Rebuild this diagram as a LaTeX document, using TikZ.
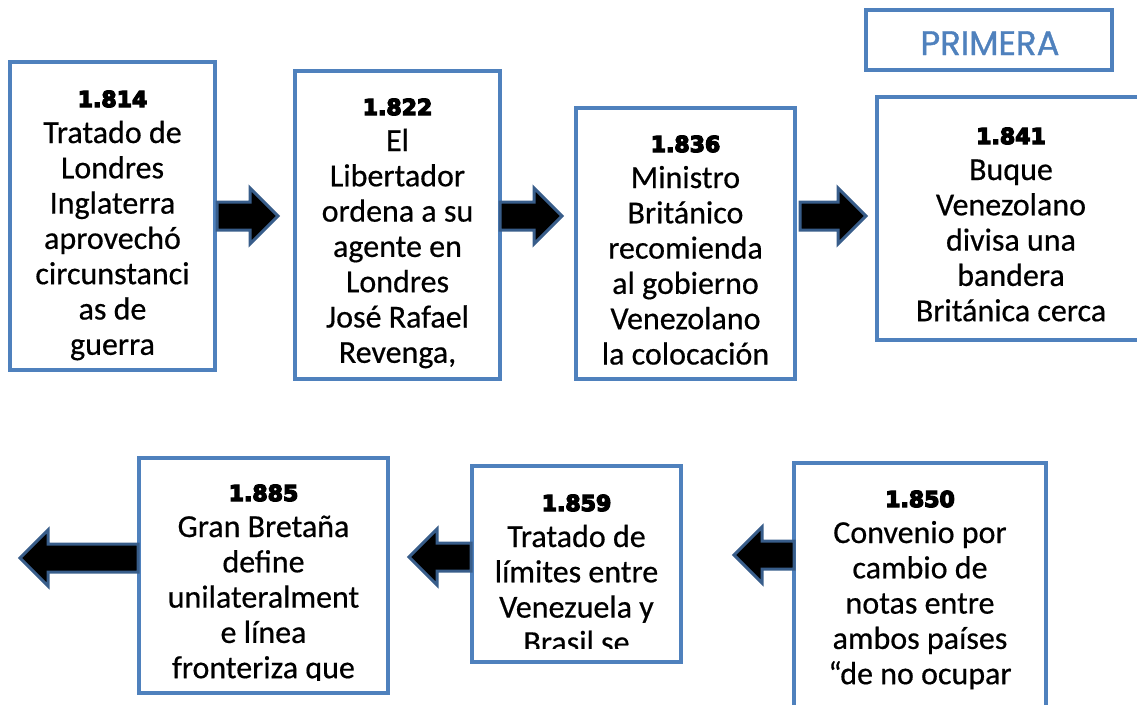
\documentclass[tikz,border=0pt]{standalone}
\usepackage{fontspec}
\setmainfont{Carlito}[FakeBold=0.5]
\newfontfamily\yearfont{DejaVu Sans}[FakeBold=6, BoldFeatures={FakeBold=6}]
\newfontfamily\primfont{Poppins}[FakeBold=1]
\usetikzlibrary{calc}
\definecolor{boxblue}{HTML}{4F81BD}
\definecolor{arrowblue}{HTML}{385D8A}
\tikzset{
  stepbox/.style={draw=boxblue, line width=3.5pt, inner sep=0pt, outer sep=0pt, rectangle},
  yeartxt/.style={font=\yearfont\bfseries\fontsize{22}{26}\selectfont, inner sep=0pt, anchor=base},
  bodytxt/.style={font=\fontsize{32}{36}\selectfont, inner sep=0pt, anchor=base},
  blockarr/.style={draw=arrowblue, fill=black, line width=3pt, line join=miter},
}
% #1 name, #2 centre x, #3 year baseline y, #4 year, #5 lines
\newcommand\boxtext[5]{%
  \node[yeartxt] (#1-y) at (#2,#3) {#4};
  \foreach \t [count=\i] in {#5} {
    \node[bodytxt] (#1-l\i) at ({#2},{#3+36+(\i-1)*35.3}) {\t};
  }%
}
% #1 name, #2 tail x, #3 tip x, #4 y
\newcommand\blockarrow[4]{%
  \pgfmathsetmacro\hb{#3-28*sign(#3-#2)}%
  \coordinate (#1-tail) at (#2,#4);
  \coordinate (#1-tip) at (#3,#4);
  \draw[blockarr] ({#2},{#4-14}) -- (\hb,{#4-14}) -- (\hb,{#4-28}) -- (#1-tip)
     -- (\hb,{#4+28}) -- (\hb,{#4+14}) -- ({#2},{#4+14}) -- cycle;
}
% #1 box, #2 bottom margin
\newcommand\clipbox[2]{\clip ([shift={(2,2)}]#1.north west) rectangle ([shift={(-2,-#2)}]#1.south east);}
\begin{document}
\begin{tikzpicture}[x=1pt, y=-1pt]
\useasboundingbox (0,0) rectangle (1137,704);
\clip (0,0) rectangle (1137,704);
% boxes
\node[stepbox, minimum width=205pt, minimum height=308pt] (b1) at (112.5,216) {};
\node[stepbox, minimum width=205pt, minimum height=308pt] (b2) at (397.5,225) {};
\node[stepbox, minimum width=219pt, minimum height=271pt] (b3) at (685.5,243.5) {};
\node[stepbox, minimum width=273pt, minimum height=243pt] (b4) at (1013.5,218.5) {};
\node[stepbox, minimum width=246pt, minimum height=60pt] (prim) at (989,40) {};
\node[stepbox, minimum width=252pt, minimum height=267pt] (b5) at (920,596.5) {};
\node[stepbox, minimum width=209pt, minimum height=196pt] (b6) at (576.5,564) {};
\node[stepbox, minimum width=249pt, minimum height=235pt] (b7) at (263.5,575.5) {};
% title
\node[font=\primfont\fontsize{34}{38}\selectfont, text=boxblue, inner sep=0pt, anchor=base] (primtxt) at (990,55) {PRIMERA};
% texts
\begin{scope}\clipbox{b1}{2}
\boxtext{t1}{112.5}{107}{1.814}{Tratado de, Londres, Inglaterra, aprovechó, circunstanci, as de, guerra}
\end{scope}
\begin{scope}\clipbox{b2}{2}
\boxtext{t2}{397.5}{115}{1.822}{El, Libertador, ordena a su, agente en, Londres, José Rafael, {Revenga,}}
\end{scope}
\begin{scope}\clipbox{b3}{2}
\boxtext{t3}{685.5}{152}{1.836}{Ministro, Británico, recomienda, al gobierno, Venezolano, la colocación}
\end{scope}
\begin{scope}\clipbox{b4}{2}
\boxtext{t4}{1011}{144}{1.841}{Buque, Venezolano, divisa una, bandera, Británica cerca}
\end{scope}
\begin{scope}\clipbox{b5}{2}
\boxtext{t5}{920}{507}{1.850}{Convenio por, cambio de, notas entre, ambos países, “de no ocupar}
\end{scope}
\begin{scope}\clipbox{b6}{14}
\boxtext{t6}{576.5}{511}{1.859}{Tratado de, límites entre, Venezuela y, Brasil se}
\end{scope}
\begin{scope}\clipbox{b7}{13}
\boxtext{t7}{263.5}{501}{1.885}{Gran Bretaña, define, unilateralment, e línea, fronteriza que}
\end{scope}
% arrows
\blockarrow{a1}{217}{278}{216}
\blockarrow{a2}{500}{562}{216}
\blockarrow{a3}{800}{866}{216}
\blockarrow{a4}{794}{734}{555}
\blockarrow{a5}{471}{409}{557}
\blockarrow{a6}{138}{20}{558}
\end{tikzpicture}
\end{document}
